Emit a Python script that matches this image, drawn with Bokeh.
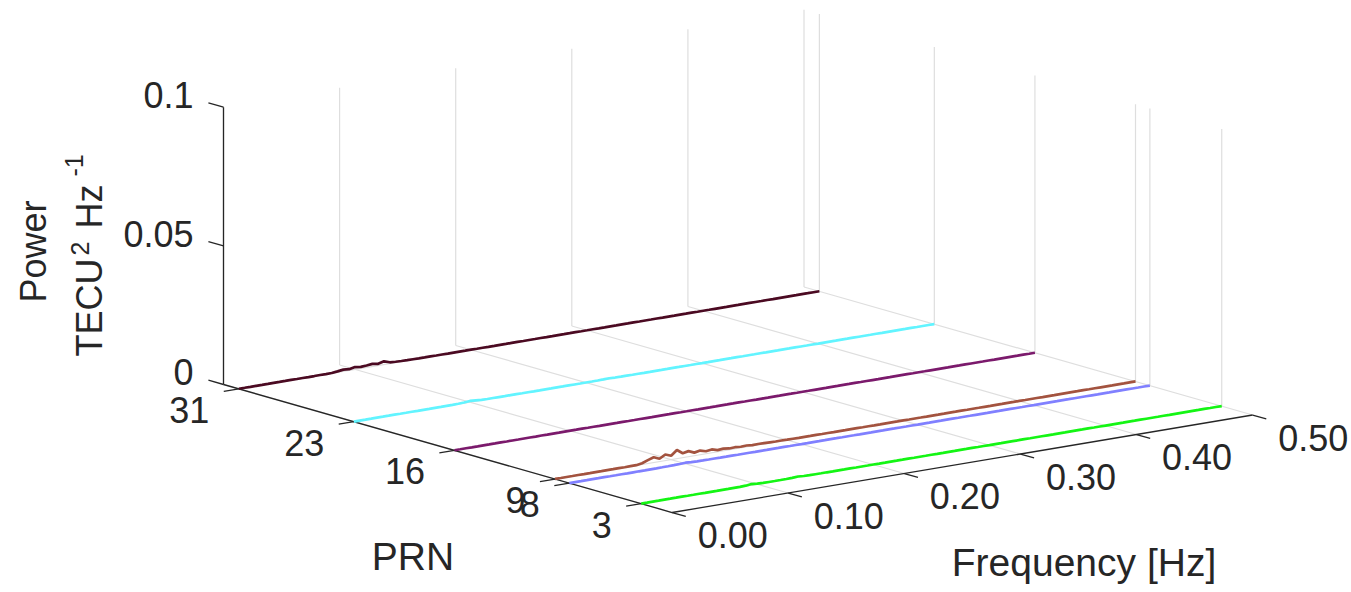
import numpy as np
from bokeh.plotting import figure
from bokeh.models import Range1d
from bokeh.embed import file_html
from bokeh.resources import INLINE
from bokeh.core.properties import value

W, H = 1351, 592
FONT = "Liberation Sans"
AX_COLOR = "#262626"
GRID_COLOR = "#dedede"

# ---------------- data ----------------
freq = [round(0.005 * i, 3) for i in range(101)]  # Hz, 0 .. 0.5

prns = [31, 23, 16, 9, 8, 3]
colors = ["#4b0a22", "#62f4ff", "#7b1a6c", "#a3533f", "#8080ff", "#14f514"]

# power spectra, in 1e-3 TECU^2 Hz^-1
power_prn31 = [
    0.06, 0.05, 0.05, 0.06, 0.05, 0.05, 0.06, 0.05, 0.05, 0.06,
    0.05, 0.06, 0.05, 0.06, 0.08, 0.07, 0.10, 0.35, 0.62, 0.42,
    0.85, 0.55, 0.70, 0.95, 0.60, 1.15, 0.45, 0.30, 0.22, 0.18,
    0.15, 0.12, 0.10, 0.12, 0.09, 0.10, 0.08, 0.09, 0.08, 0.07,
    0.07, 0.06, 0.07, 0.06, 0.06, 0.07, 0.05, 0.06, 0.06, 0.05,
    0.06, 0.05, 0.06, 0.05, 0.05, 0.06, 0.05, 0.05, 0.06, 0.05,
    0.05, 0.06, 0.05, 0.05, 0.06, 0.05, 0.05, 0.05, 0.06, 0.05,
    0.05, 0.05, 0.06, 0.05, 0.05, 0.05, 0.06, 0.05, 0.05, 0.05,
    0.06, 0.05, 0.05, 0.05, 0.05, 0.06, 0.05, 0.05, 0.05, 0.05,
    0.05, 0.06, 0.05, 0.05, 0.05, 0.05, 0.05, 0.06, 0.05, 0.05,
    0.05]
power_prn23 = [
    0.05, 0.06, 0.05, 0.05, 0.06, 0.05, 0.05, 0.06, 0.05, 0.05,
    0.06, 0.05, 0.06, 0.05, 0.07, 0.06, 0.08, 0.10, 0.14, 0.22,
    0.45, 0.30, 0.14, 0.10, 0.09, 0.08, 0.07, 0.08, 0.07, 0.06,
    0.07, 0.06, 0.06, 0.07, 0.06, 0.06, 0.05, 0.06, 0.06, 0.05,
    0.06, 0.07, 0.09, 0.12, 0.20, 0.10, 0.07, 0.06, 0.05, 0.06,
    0.05, 0.05, 0.06, 0.05, 0.05, 0.06, 0.05, 0.05, 0.05, 0.06,
    0.05, 0.05, 0.06, 0.05, 0.05, 0.05, 0.06, 0.05, 0.05, 0.05,
    0.06, 0.05, 0.05, 0.05, 0.06, 0.05, 0.05, 0.05, 0.05, 0.06,
    0.05, 0.05, 0.05, 0.05, 0.06, 0.05, 0.05, 0.05, 0.05, 0.05,
    0.06, 0.05, 0.05, 0.05, 0.05, 0.05, 0.06, 0.05, 0.05, 0.05,
    0.05]
power_prn16 = [
    0.05, 0.05, 0.06, 0.05, 0.05, 0.06, 0.05, 0.05, 0.06, 0.05,
    0.06, 0.05, 0.06, 0.07, 0.06, 0.08, 0.07, 0.09, 0.08, 0.10,
    0.12, 0.09, 0.11, 0.08, 0.09, 0.07, 0.08, 0.07, 0.06, 0.07,
    0.06, 0.06, 0.07, 0.06, 0.05, 0.06, 0.06, 0.05, 0.06, 0.05,
    0.05, 0.06, 0.05, 0.06, 0.05, 0.05, 0.06, 0.05, 0.05, 0.06,
    0.05, 0.05, 0.05, 0.06, 0.05, 0.05, 0.05, 0.06, 0.05, 0.05,
    0.06, 0.05, 0.05, 0.05, 0.05, 0.06, 0.05, 0.05, 0.05, 0.06,
    0.05, 0.05, 0.05, 0.05, 0.06, 0.05, 0.05, 0.05, 0.05, 0.05,
    0.06, 0.05, 0.05, 0.05, 0.05, 0.05, 0.06, 0.05, 0.05, 0.05,
    0.05, 0.05, 0.06, 0.05, 0.05, 0.05, 0.05, 0.05, 0.06, 0.05,
    0.05]
power_prn9 = [
    0.06, 0.05, 0.06, 0.05, 0.06, 0.05, 0.05, 0.06, 0.05, 0.06,
    0.06, 0.07, 0.06, 0.08, 0.10, 0.45, 1.20, 1.90, 1.00, 2.20,
    1.40, 3.10, 1.60, 2.00, 1.10, 1.50, 0.90, 1.20, 0.60, 0.80,
    0.50, 0.60, 0.40, 0.50, 0.30, 0.35, 0.30, 0.25, 0.20, 0.20,
    0.15, 0.14, 0.12, 0.12, 0.10, 0.11, 0.09, 0.10, 0.08, 0.08,
    0.07, 0.08, 0.07, 0.06, 0.07, 0.06, 0.06, 0.07, 0.06, 0.05,
    0.06, 0.05, 0.06, 0.05, 0.05, 0.06, 0.05, 0.05, 0.06, 0.05,
    0.05, 0.05, 0.06, 0.05, 0.05, 0.05, 0.06, 0.05, 0.05, 0.05,
    0.06, 0.05, 0.05, 0.05, 0.05, 0.06, 0.05, 0.05, 0.05, 0.05,
    0.05, 0.06, 0.05, 0.05, 0.05, 0.05, 0.05, 0.06, 0.05, 0.05,
    0.05]
power_prn8 = [
    0.05, 0.06, 0.05, 0.05, 0.06, 0.05, 0.06, 0.05, 0.05, 0.06,
    0.05, 0.06, 0.07, 0.06, 0.08, 0.09, 0.11, 0.14, 0.18, 0.24,
    0.35, 0.20, 0.15, 0.12, 0.10, 0.11, 0.09, 0.08, 0.09, 0.07,
    0.08, 0.07, 0.06, 0.07, 0.06, 0.06, 0.05, 0.06, 0.05, 0.06,
    0.05, 0.05, 0.06, 0.05, 0.05, 0.06, 0.05, 0.05, 0.06, 0.05,
    0.05, 0.06, 0.05, 0.05, 0.05, 0.06, 0.05, 0.05, 0.05, 0.06,
    0.05, 0.05, 0.05, 0.06, 0.05, 0.05, 0.05, 0.05, 0.06, 0.05,
    0.05, 0.05, 0.05, 0.06, 0.05, 0.05, 0.05, 0.05, 0.05, 0.06,
    0.05, 0.05, 0.05, 0.05, 0.05, 0.06, 0.05, 0.05, 0.05, 0.05,
    0.05, 0.05, 0.06, 0.05, 0.05, 0.05, 0.05, 0.05, 0.05, 0.06,
    0.05]
power_prn3 = [
    0.05, 0.05, 0.06, 0.05, 0.06, 0.05, 0.05, 0.06, 0.05, 0.05,
    0.06, 0.05, 0.06, 0.05, 0.07, 0.06, 0.08, 0.10, 0.16, 0.40,
    0.18, 0.10, 0.09, 0.08, 0.09, 0.12, 0.18, 0.30, 0.14, 0.09,
    0.08, 0.07, 0.07, 0.06, 0.07, 0.06, 0.06, 0.05, 0.06, 0.05,
    0.06, 0.05, 0.05, 0.06, 0.05, 0.05, 0.06, 0.05, 0.05, 0.05,
    0.06, 0.05, 0.05, 0.06, 0.05, 0.05, 0.05, 0.06, 0.05, 0.05,
    0.05, 0.06, 0.05, 0.05, 0.05, 0.05, 0.06, 0.05, 0.05, 0.05,
    0.05, 0.05, 0.06, 0.05, 0.05, 0.05, 0.05, 0.06, 0.05, 0.05,
    0.05, 0.05, 0.05, 0.05, 0.06, 0.05, 0.05, 0.05, 0.05, 0.05,
    0.06, 0.05, 0.05, 0.05, 0.05, 0.05, 0.05, 0.06, 0.05, 0.05,
    0.05]
powers = [power_prn31, power_prn23, power_prn16, power_prn9, power_prn8, power_prn3]

f_ticks = [0.0, 0.1, 0.2, 0.3, 0.4, 0.5]
f_tick_labels = ["0.00", "0.10", "0.20", "0.30", "0.40", "0.50"]
prn_ticks = [3, 8, 9, 16, 23, 31]
prn_tick_labels = ["3", "8", "9", "16", "23", "31"]
z_ticks = [0.0, 0.05, 0.1]
z_tick_labels = ["0", "0.05", "0.1"]

# ---------------- 3-D view (orthographic) ----------------
F_MIN, F_MAX = 0.0, 0.5
P_MIN, P_MAX = 0.85, 32.07
Z_MIN, Z_MAX = 0.0, 0.1
ORIGIN = (223.0, 384.0)          # screen position of (F_MIN, P_MAX, Z_MIN)
E_F = (1161.0, -195.0)           # screen shift per Hz
E_P = (-14.37, -4.10)            # screen shift per PRN unit
E_Z = (0.0, -2773.0)             # screen shift per power unit


def proj(f, p, z):
    f = np.asarray(f, float)
    p = np.asarray(p, float)
    z = np.asarray(z, float)
    xs = ORIGIN[0] + E_F[0] * (f - F_MIN) + E_P[0] * (p - P_MAX) + E_Z[0] * z
    ys = ORIGIN[1] + E_F[1] * (f - F_MIN) + E_P[1] * (p - P_MAX) + E_Z[1] * z
    return xs, H - ys  # bokeh y goes up


def seg(a, b):
    x0, y0 = proj(*a)
    x1, y1 = proj(*b)
    return [float(x0), float(x1)], [float(y0), float(y1)]


# bokeh draws an "alphabetic" baseline a little below the anchor; compensate
def bshift(fs):
    return 0.39 * fs


p = figure(width=W, height=H, x_range=Range1d(0, W), y_range=Range1d(0, H),
           output_backend="svg", toolbar_location=None, min_border=0,
           x_axis_location=None, y_axis_location=None)
p.grid.visible = False
p.outline_line_color = None
p.background_fill_color = "white"
p.border_fill_color = "white"

# ---------------- grid ----------------
gx, gy = [], []
for f in f_ticks:  # back wall verticals and floor lines
    a, b = seg((f, P_MAX, Z_MIN), (f, P_MAX, Z_MAX)); gx.append(a); gy.append(b)
    a, b = seg((f, P_MIN, Z_MIN), (f, P_MAX, Z_MIN)); gx.append(a); gy.append(b)
for pr in prn_ticks:  # side wall verticals and floor lines
    a, b = seg((F_MAX, pr, Z_MIN), (F_MAX, pr, Z_MAX)); gx.append(a); gy.append(b)
    a, b = seg((F_MIN, pr, Z_MIN), (F_MAX, pr, Z_MIN)); gx.append(a); gy.append(b)
p.multi_line(gx, gy, line_color=GRID_COLOR, line_width=1.2)

# ---------------- axes ----------------
ax, ay = [], []
a, b = seg((F_MIN, P_MAX, Z_MIN), (F_MIN, P_MAX, Z_MAX)); ax.append(a); ay.append(b)
a, b = seg((F_MIN, P_MAX, Z_MIN), (F_MIN, P_MIN, Z_MIN)); ax.append(a); ay.append(b)
a, b = seg((F_MIN, P_MIN, Z_MIN), (F_MAX, P_MIN, Z_MIN)); ax.append(a); ay.append(b)
for z in z_ticks:
    a, b = seg((F_MIN, P_MAX, z), (F_MIN, P_MAX + 1.05, z)); ax.append(a); ay.append(b)
for pr in prn_ticks:
    a, b = seg((F_MIN, pr, Z_MIN), (F_MIN - 0.013, pr, Z_MIN)); ax.append(a); ay.append(b)
for f in f_ticks:
    a, b = seg((f, P_MIN, Z_MIN), (f, P_MIN - 0.95, Z_MIN)); ax.append(a); ay.append(b)
p.multi_line(ax, ay, line_color=AX_COLOR, line_width=1.3)

# ---------------- data ----------------
for pr, pw, col in zip(prns, powers, colors):
    z = np.array(pw) * 1e-3
    xs, ys = proj(freq, np.full(len(freq), pr), z)
    p.line(xs, ys, line_color=col, line_width=2.7)

# ---------------- tick labels ----------------
TFS = 36
TICK_FS = f"{TFS}px"
zx, zy = proj(np.zeros(len(z_ticks)), np.full(len(z_ticks), P_MAX), z_ticks)
p.text(zx - 30, zy - 2 + bshift(TFS), text=z_tick_labels, text_font=value(FONT),
       text_font_size=TICK_FS, text_color=AX_COLOR, text_align="right", text_baseline="alphabetic")

px_, py_ = proj(np.zeros(len(prn_ticks)), prn_ticks, np.zeros(len(prn_ticks)))
p.text(px_ - 29.5, py_ - 35 + bshift(TFS), text=prn_tick_labels, text_font=value(FONT),
       text_font_size=TICK_FS, text_color=AX_COLOR, text_align="right", text_baseline="alphabetic")

fx, fy = proj(f_ticks, np.full(len(f_ticks), P_MIN), np.zeros(len(f_ticks)))
p.text(fx + 25.5, fy - 37 + bshift(TFS), text=f_tick_labels, text_font=value(FONT),
       text_font_size=TICK_FS, text_color=AX_COLOR, text_align="left", text_baseline="alphabetic")

# ---------------- axis labels ----------------
LFS = 39
LAB_FS = f"{LFS}px"
p.text([412.5], [H - 571 + bshift(LFS)], text=["PRN"], text_font=value(FONT), text_font_size=LAB_FS,
       text_color=AX_COLOR, text_align="center", text_baseline="alphabetic")
p.text([1083.5], [H - 577 + bshift(LFS)], text=["Frequency [Hz]"], text_font=value(FONT),
       text_font_size=LAB_FS, text_color=AX_COLOR, text_align="center", text_baseline="alphabetic")

# vertical (power) label: two lines rotated 90 degrees
rot = np.pi / 2
ZFS = 36
SFS = 25
p.text([47 - bshift(ZFS)], [H - 251], text=["Power"], angle=rot, text_font=value(FONT),
       text_font_size=f"{ZFS}px", text_color=AX_COLOR, text_align="center", text_baseline="alphabetic")
p.text([103 - bshift(ZFS)] * 2, [H - 356, H - 228], text=["TECU", "Hz"], angle=rot,
       text_font=value(FONT), text_font_size=f"{ZFS}px", text_color=AX_COLOR,
       text_align="left", text_baseline="alphabetic")
p.text([89 - bshift(SFS), 83 - bshift(SFS)], [H - 255, H - 176], text=["2", "-1"], angle=rot,
       text_font=value(FONT), text_font_size=f"{SFS}px", text_color=AX_COLOR,
       text_align="left", text_baseline="alphabetic")

open("out.html", "w").write(file_html(p, INLINE))
